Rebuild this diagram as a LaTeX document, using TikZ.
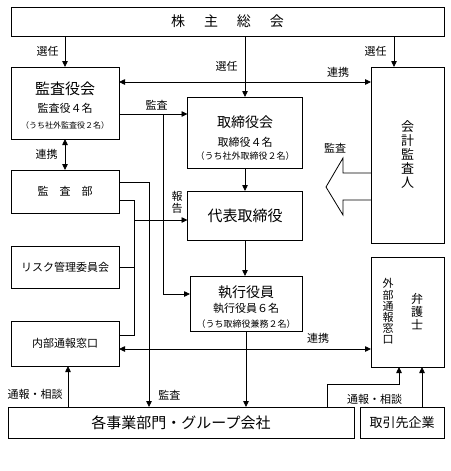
\documentclass[tikz,border=0pt]{standalone}
\usepackage{fontspec}
\setmainfont{Noto Sans CJK JP}
\usetikzlibrary{arrows.meta,positioning}

\newcommand{\jfs}[2]{\fontsize{#1}{#2}\selectfont}

\tikzset{
	box/.style={draw,line width=1pt,inner sep=0pt,outer sep=0pt,align=center},
	lbl/.style={font=\jfs{11}{12},inner sep=0pt},
	arr/.style={-{Triangle[length=6pt,width=5.5pt]}},
	darr/.style={{Triangle[length=6pt,width=5.5pt]}-{Triangle[length=6pt,width=5.5pt]}},
}

\begin{document}
\begin{tikzpicture}[x=1pt,y=-1pt,line width=0.8pt]
					\useasboundingbox (0,0) rectangle (450,471);

					\node[box,minimum width=433pt,minimum height=29pt,font=\jfs{14}{16}] (soukai) at (227.5,21.5) {株\hspace{19pt}主\hspace{19pt}総\hspace{19pt}会};
					\node[box,minimum width=108pt,minimum height=72pt] (kansayaku) at (65,103)
					{\jfs{15}{12}\rule{0pt}{17pt}監査役会\\[6pt]\jfs{11}{12}監査役４名\\[4pt]\jfs{8}{12}（うち社外監査役２名）};
					\node[box,minimum width=115pt,minimum height=71pt] (torishimari) at (245,132.5)
					{\jfs{14}{12}\rule{0pt}{22pt}取締役会\\[7pt]\jfs{11}{12}取締役４名\\[1pt]\jfs{9}{12}（うち社外取締役２名）};
					\node[box,minimum width=73pt,minimum height=176pt,font=\jfs{13}{14}] (kaikei) at (407.5,155) {会\\計\\監\\査\\人};
					\node[box,minimum width=108pt,minimum height=43pt,font=\jfs{11}{12}] (kansabu) at (65,191.5) {監　査　部};
					\node[box,minimum width=115pt,minimum height=49pt,font=\jfs{15}{16}] (daihyo) at (245,215.5) {代表取締役};
					\node[box,minimum width=108pt,minimum height=42pt,font=\jfs{11}{12}] (risk) at (65,267) {リスク管理委員会};
					\node[box,minimum width=112pt,minimum height=55pt] (shikko) at (246,303.5)
					{\jfs{14}{12}\rule{0pt}{18pt}執行役員\\[3pt]\jfs{11}{12}執行役員６名\\[3pt]\jfs{9}{12}（うち取締役兼務２名）};
					\node[box,minimum width=108pt,minimum height=45pt,font=\jfs{11}{12}] (naibu) at (65,343.5) {内部通報窓口};
					\node[box,minimum width=73pt,minimum height=110pt] (bengoshi) at (407.5,312) {};
					\node[align=center,inner sep=0pt,font=\jfs{11}{11.2}] (gaibu) at (388,311.5) {外\\部\\通\\報\\窓\\口};
					\node[align=center,inner sep=0pt,font=\jfs{12}{13}] (bengo) at (417,311.5) {弁\\護\\士};
					\node[box,minimum width=346pt,minimum height=31pt,font=\jfs{15}{16}] (jigyo) at (181,422.5) {各事業部門・グループ会社};
					\node[box,minimum width=84pt,minimum height=31pt,font=\jfs{13}{14}] (torihiki) at (402,422.5) {取引先企業};

					% 選任
					\draw[arr] (soukai.south -| kansayaku.north) -- (kansayaku.north) node[lbl,midway,left=6pt] {選任};
					\draw[arr] (soukai.south -| torishimari.north) -- (torishimari.north) node[lbl,midway,left=7pt] {選任};
					\coordinate (kn) at ([xshift=-13.5pt]kaikei.north);
					\draw[arr] (soukai.south -| kn) -- (kn) node[lbl,midway,left=7pt] {選任};

					% 連携・監査
					\coordinate (r1) at ([yshift=21pt]kansayaku.east);
					\draw[darr] (r1) -- (r1 -| kaikei.west) node[lbl,pos=0.87,above=4.5pt] {連携};
					\coordinate (r2) at ([yshift=-11pt]kansayaku.east);
					\draw[arr] (r2) -- (r2 -| torishimari.west) node[lbl,pos=0.55,above=3pt] {監査};
					\draw[arr] ([xshift=44pt]r2) |- ([yshift=9.5pt]shikko.west);
					\draw[darr] (kansayaku.south) -- (kansabu.north) node[lbl,midway,left=7pt] {連携};

					\coordinate (a1) at ([yshift=9.5pt]kansabu.east);
					\draw[arr] (a1) -| ([xshift=-32pt]jigyo.north) node[lbl,pos=0.973,right=9pt] {監査};
					\coordinate (a2) at ([yshift=-8.5pt]kansabu.east);
					\coordinate (n1) at ([yshift=8.5pt]naibu.east);
					\draw (a2) -- ++(15,0) coordinate (bus) |- (n1);
					\draw (risk.east) -- (risk.east -| bus);
					\coordinate (d1) at ([yshift=-4.5pt]daihyo.west);
					\draw[arr] (d1 -| bus) -- (d1) node[lbl,align=center,anchor=south east,pos=1,xshift=-4.5pt,yshift=6.5pt] {報\\告};

					% 縦の流れ
					\draw[arr] (torishimari.south) -- (daihyo.north);
					\draw[arr] (daihyo.south) -- (daihyo.south |- shikko.north);
					\draw[arr] (shikko.south) -- (shikko.south |- jigyo.north);

					% 会計監査人の監査
					\draw ([yshift=-18pt]kaikei.west) -- ++(-28,0) -- ++(0,-15) node[lbl,xshift=-8pt,yshift=10pt] {監査}
					-- ++(-17,29) -- ++(17,28) -- ++(0,-15) -- ++(28,0);

					\coordinate (n2) at ([yshift=-5.5pt]naibu.east);
					\draw[darr] (n2) -- (n2 -| bengoshi.west) node[lbl,pos=0.79,above=5.5pt] {連携};

					% 通報・相談
					\coordinate (t1) at ([xshift=-113pt]jigyo.north);
					\draw[arr] (t1) -- (t1 |- naibu.south) node[lbl,pos=0.3,left=5pt] {通報・相談};
					\coordinate (t2) at ([xshift=146pt]jigyo.north);
					\draw[arr] (t2) -- ++(0,-23) -| ([xshift=-8.5pt]bengoshi.south);
					\coordinate (t3) at ([xshift=20pt]torihiki.north);
					\draw[arr] (t3) -- (t3 |- bengoshi.south) node[lbl,pos=0.2,left=19.5pt] {通報・相談};
				\end{tikzpicture}
\end{document}
